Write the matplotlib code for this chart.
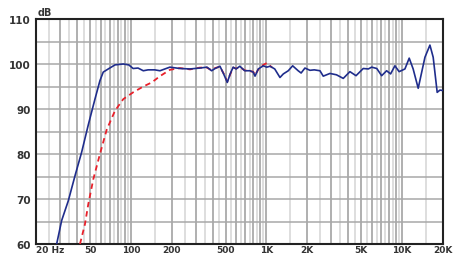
import matplotlib
matplotlib.use("Agg")
import matplotlib.pyplot as plt
import numpy as np

# ---- data ----
blue_freq = [28.4, 30.9, 34.6, 38.8, 43.4, 48.6, 54.4, 59.2, 62.6, 68.2, 76.4, 88, 96.6,
             104, 113, 123.6, 134, 150, 164, 194, 230, 273, 323, 364, 394, 418, 454, 483,
             514, 540, 568, 597, 636, 691, 755, 798, 823, 870, 947, 1004, 1063, 1150, 1257,
             1331, 1447, 1559, 1712, 1800, 1920, 2090, 2250, 2478, 2620, 2937, 3280, 3680,
             4120, 4570, 5165, 5630, 5960, 6500, 7060, 7680, 8220, 8840, 9500, 10480, 11270,
             12050, 13130, 14720, 16020, 16930, 18120, 18980, 20000]
blue_db = [60, 65.2, 69.6, 75.2, 80.4, 86.5, 92.2, 96.3, 98.2, 98.9, 99.8, 100.0, 99.8,
           99.0, 99.1, 98.5, 98.7, 98.7, 98.5, 99.3, 99.0, 98.9, 99.1, 99.3, 98.5, 99.0, 99.5, 97.8,
           95.9, 97.8, 99.3, 98.9, 99.5, 98.5, 98.5, 98.2, 97.3, 98.9, 99.6, 99.3, 99.5, 98.9, 97.0,
           97.8, 98.5, 99.6, 98.5, 98.0, 99.1, 98.6, 98.7, 98.5, 97.3, 97.9, 97.6, 96.8,
           98.3, 97.4, 99.0, 98.9, 99.3, 99.0, 97.4, 98.5, 97.8, 99.6, 98.3, 98.9, 101.3,
           98.9, 94.6, 101.5, 104.2, 101.5, 93.7, 94.2, 94.1]

red_freq = [42.2, 45.9, 48.6, 52.9, 59.2, 66.4, 76.4, 88, 104, 123.6, 142.6, 164, 194, 230,
            273, 323, 364, 394, 418, 454, 483, 514, 540, 568, 597, 636, 691, 755, 798, 823,
            870, 947, 1004, 1063, 1100]
red_db = [60, 64.4, 68.9, 74.4, 80, 85.4, 89.6, 92.2, 93.7, 95.0, 95.9, 97.3, 98.7, 99.1,
          98.8, 99.2, 99.2, 98.6, 99.1, 99.4, 97.9, 96.1, 97.7, 99.2, 99.0, 99.3, 98.6, 98.4, 98.3, 97.5,
          98.8, 99.8, 100.2, 99.6, 99.2]

y_ticks = [60, 70, 80, 90, 100, 110]
x_tick_vals = [20, 50, 100, 200, 500, 1000, 2000, 5000, 10000, 20000]
x_tick_labels = ["20 Hz", "50", "100", "200", "500", "1K", "2K", "5K", "10K", "20K"]

FONT = ["Liberation Sans Narrow", "DejaVu Sans"]
plt.rcParams['font.family'] = FONT

fig = plt.figure(figsize=(4.6, 2.55), dpi=100)
ax = fig.add_axes([36/460, 10/255, (443-36)/460, (245-20)/255])
ax.set_xscale('log')
ax.set_xlim(20, 20000)
ax.set_ylim(60, 110)

# grid
for dec in [10, 100, 1000, 10000]:
    for m in np.arange(1.0, 10.0, 0.5):
        f = dec * m
        if f <= 20 or f >= 20000:
            continue
        if dec == 10 and m < 2:
            continue
        integer = float(m).is_integer()
        ax.axvline(f, color='#9a9a9a' if integer else '#d4d4d4', lw=1.1, zorder=1)
for yv in range(65, 110, 5):
    ax.axhline(yv, color='#a8a8a8', lw=1.1, zorder=1)

ax.plot(red_freq, red_db, color='#e8202a', lw=1.3, ls=(0, (3.0, 2.2)), zorder=3)
ax.plot(blue_freq, blue_db, color='#1f2d8c', lw=1.2, zorder=4)

for s in ax.spines.values():
    s.set_color('#222222')
    s.set_linewidth(1.5)

ax.set_yticks(y_ticks)
ax.set_yticklabels([str(v) for v in y_ticks], fontsize=7.5, fontweight='bold', color='#333333')
ax.set_xticks(x_tick_vals)
ax.set_xticklabels(x_tick_labels, fontsize=6.5, fontweight='bold', color='#333333')
ax.xaxis.set_minor_locator(matplotlib.ticker.NullLocator())
ax.tick_params(axis='both', length=0)
ax.tick_params(axis='y', pad=4)
ax.tick_params(axis='x', pad=0.8)
lbls = ax.get_xticklabels()
lbls[0].set_horizontalalignment('left')

ax.text(0.003, 1.01, "dB", transform=ax.transAxes, ha='left', va='bottom',
        fontsize=7, fontweight='bold', color='#333333')

fig.savefig("out.png", dpi=100)
